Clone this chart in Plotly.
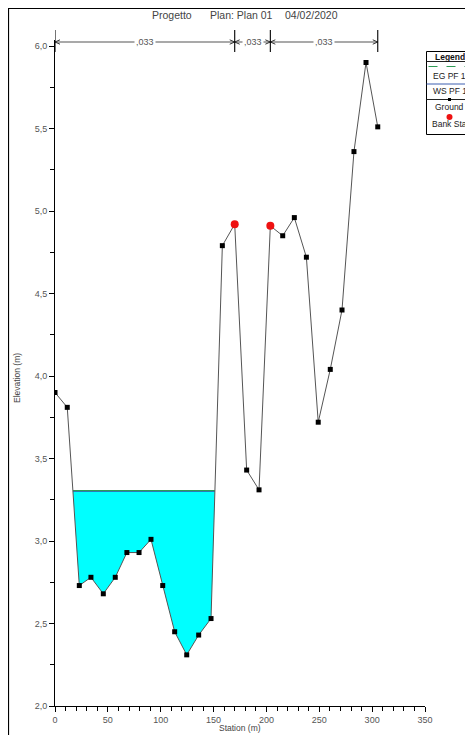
import numpy as np
import plotly.graph_objects as go

# ---------------- data ----------------
STATION = [0, 11.6, 23, 34, 45.7, 57, 68, 79.5, 90.8, 101.9, 113.2, 124.6, 135.9, 147.6,
           158.3, 170, 181.3, 193, 203.7, 215.4, 226.4, 237.8, 249, 260.4, 271.5, 282.8,
           294.2, 305.3]
ELEV = [3.90, 3.81, 2.73, 2.78, 2.68, 2.78, 2.93, 2.93, 3.01, 2.73, 2.45, 2.31, 2.43, 2.53,
        4.79, 4.92, 3.43, 3.31, 4.91, 4.85, 4.96, 4.72, 3.72, 4.04, 4.40, 5.36, 5.90, 5.51]
BANK_STA = [170, 203.7]
WS_PF1 = 3.30
EG_PF1 = 3.305
N_VALUES = [",033", ",033", ",033"]
X_TICKS = [0, 50, 100, 150, 200, 250, 300, 350]
Y_TICKS = [2.0, 2.5, 3.0, 3.5, 4.0, 4.5, 5.0, 5.5, 6.0]
Y_TICK_TEXT = ["2,0", "2,5", "3,0", "3,5", "4,0", "4,5", "5,0", "5,5", "6,0"]
TITLE_PARTS = ["Progetto", "Plan: Plan 01", "04/02/2020"]
LEGEND_ITEMS = ["EG PF 1", "WS PF 1", "Ground", "Bank Sta"]

# ---------------- layout constants ----------------
OFF = 8                      # page body margin of the html page
W, H = 473 - OFF, 735 - OFF  # figure size so it fits the window
PL, PR, PT, PB = 55, 425, 40, 706   # plot area in page pixels
L, T = PL - OFF, PT - OFF
R = W - (PR - OFF)
B = H - (PB - OFF)
PW = PR - PL
PH = PB - PT
YMIN = 2.0
YMAX = 6.0 + 6 / 165.0
FONT = "Liberation Sans, Arial, sans-serif"
TXT = "#444444"


def px(xpix):
    return (xpix - PL) / PW


def py(ypix):
    return (PB - ypix) / PH


def note(x, y, text, size=8.5, color=TXT, **kw):
    d = dict(x=x, y=y, xref="paper", yref="paper", text=text, showarrow=False,
             xanchor="center", yanchor="middle",
             font=dict(family=FONT, size=size, color=color))
    d.update(kw)
    return d


st = np.array(STATION, dtype=float)
el = np.array(ELEV, dtype=float)

# water polygon: intersections of WS with ground (first wet region)
wet = el < WS_PF1
i0 = int(np.argmax(wet))
i1 = i0
while i1 + 1 < len(el) and wet[i1 + 1]:
    i1 += 1
xl = st[i0 - 1] + (WS_PF1 - el[i0 - 1]) / (el[i0] - el[i0 - 1]) * (st[i0] - st[i0 - 1])
xr = st[i1] + (WS_PF1 - el[i1]) / (el[i1 + 1] - el[i1]) * (st[i1 + 1] - st[i1])
poly_x = [xl] + list(st[i0:i1 + 1]) + [xr, xl]
poly_y = [WS_PF1] + list(el[i0:i1 + 1]) + [WS_PF1, WS_PF1]

fig = go.Figure()
fig.add_trace(go.Scatter(x=poly_x, y=poly_y, mode="lines", fill="toself",
                         fillcolor="#00FFFF", line=dict(color="#00FFFF", width=0),
                         hoverinfo="skip", showlegend=False))
fig.add_trace(go.Scatter(x=[xl, xr], y=[WS_PF1, WS_PF1], mode="lines",
                         line=dict(color="#2f6fd0", width=1), showlegend=False))
fig.add_trace(go.Scatter(x=[xl, xr], y=[EG_PF1, EG_PF1], mode="lines",
                         line=dict(color="#2e9b55", width=1.3), showlegend=False))
fig.add_trace(go.Scatter(x=STATION, y=ELEV, mode="lines+markers",
                         line=dict(color="#555555", width=1),
                         marker=dict(symbol="square", size=5, color="black"),
                         showlegend=False))
bank_y = np.interp(BANK_STA, st, el)
fig.add_trace(go.Scatter(x=BANK_STA, y=bank_y, mode="markers",
                         marker=dict(symbol="circle", size=8, color="#ee1111"),
                         showlegend=False))

shapes = []
annotations = []

# outer frame
shapes.append(dict(type="rect", xref="paper", yref="paper", x0=px(8.5), x1=px(520),
                   y0=py(800), y1=py(8.5), line=dict(color="black", width=1.2)))

# n-value dimension lines
bounds = [0.0] + list(BANK_STA) + [float(st[-1])]
ydim = py(42)
mpp = 350.0 / PW  # metres per pixel
for i in range(len(bounds) - 1):
    a, b = bounds[i], bounds[i + 1]
    shapes.append(dict(type="line", xref="x", yref="paper", x0=a, x1=b, y0=ydim, y1=ydim,
                       line=dict(color="#555555", width=1.2)))
    for tip, sgn in ((a, 1), (b, -1)):
        for dy in (2.2, -2.2):
            shapes.append(dict(type="line", xref="x", yref="paper", x0=tip,
                               x1=tip + sgn * 5 * mpp, y0=ydim, y1=py(42 + dy),
                               line=dict(color="#333333", width=1)))
    annotations.append(dict(x=(a + b) / 2, y=ydim, xref="x", yref="paper",
                            text=N_VALUES[i], showarrow=False, bgcolor="white",
                            xanchor="center", yanchor="middle", borderpad=1,
                            font=dict(family=FONT, size=9, color="#555555")))
for bnd in bounds:
    shapes.append(dict(type="line", xref="x", yref="paper", x0=bnd, x1=bnd,
                       y0=py(30), y1=py(52), line=dict(color="black", width=1.1)))

# title
for text, xc in zip(TITLE_PARTS, [172, 241, 311]):
    annotations.append(note(px(xc), py(15), text, size=10.5))

# legend box
lx0, lx1 = 426.5, 472.0
shapes.append(dict(type="rect", xref="paper", yref="paper", x0=px(lx0), x1=px(lx1),
                   y0=py(134.5), y1=py(51.5), line=dict(color="black", width=1)))
shapes.append(dict(type="line", xref="paper", yref="paper", x0=px(lx0), x1=px(lx1),
                   y0=py(61.5), y1=py(61.5), line=dict(color="#222222", width=1)))
shapes.append(dict(type="line", xref="paper", yref="paper", x0=px(lx0 + 2), x1=px(lx1 - 2),
                   y0=py(66.5), y1=py(66.5), line=dict(color="#2e9b55", width=1, dash="dash")))
shapes.append(dict(type="line", xref="paper", yref="paper", x0=px(lx0), x1=px(lx1),
                   y0=py(84), y1=py(84), line=dict(color="#3d5fb0", width=1)))
shapes.append(dict(type="line", xref="paper", yref="paper", x0=px(lx0), x1=px(lx1),
                   y0=py(99.5), y1=py(99.5), line=dict(color="#222222", width=1)))
shapes.append(dict(type="rect", xref="paper", yref="paper", x0=px(448), x1=px(451),
                   y0=py(101), y1=py(98), fillcolor="black", line=dict(width=0)))
shapes.append(dict(type="circle", xref="paper", yref="paper", x0=px(446.5), x1=px(452.5),
                   y0=py(120), y1=py(114), fillcolor="#ee1111", line=dict(width=0)))
annotations.append(note(px(449.5), py(57), "<b>Legend</b>", size=8.5, color="#111111"))
for text, yc in zip(LEGEND_ITEMS, [76, 91, 107, 124]):
    annotations.append(note(px(449.5), py(yc), text, size=8.5, color="#222222"))

# axis titles
annotations.append(note(px(240), py(728), "Station (m)", size=8.5))
annotations.append(note(px(17), py(378), "Elevation (m)", size=8.5, textangle=-90))

fig.update_layout(
    width=W, height=H, margin=dict(l=L, r=R, t=T, b=B, autoexpand=False),
    paper_bgcolor="white", plot_bgcolor="white", showlegend=False,
    shapes=shapes, annotations=annotations,
    font=dict(family=FONT, size=9, color=TXT),
    xaxis=dict(range=[0, 350], tickvals=X_TICKS, ticktext=[str(v) for v in X_TICKS],
               showgrid=False, zeroline=False, showline=True, linecolor="black", linewidth=1,
               ticks="outside", ticklen=5, tickcolor="black", tickwidth=1,
               minor=dict(dtick=10, tick0=0, ticks="outside", ticklen=4, tickcolor="black"),
               tickfont=dict(family=FONT, size=9, color="#555555")),
    yaxis=dict(range=[YMIN, YMAX], tickvals=Y_TICKS, ticktext=Y_TICK_TEXT,
               showgrid=False, zeroline=False, showline=True, linecolor="black", linewidth=1,
               ticks="outside", ticklen=5, tickcolor="black", tickwidth=1,
               minor=dict(dtick=0.25, tick0=2.0, ticks="outside", ticklen=4, tickcolor="black"),
               tickfont=dict(family=FONT, size=9, color="#555555")),
)

fig.write_html("out.html")
